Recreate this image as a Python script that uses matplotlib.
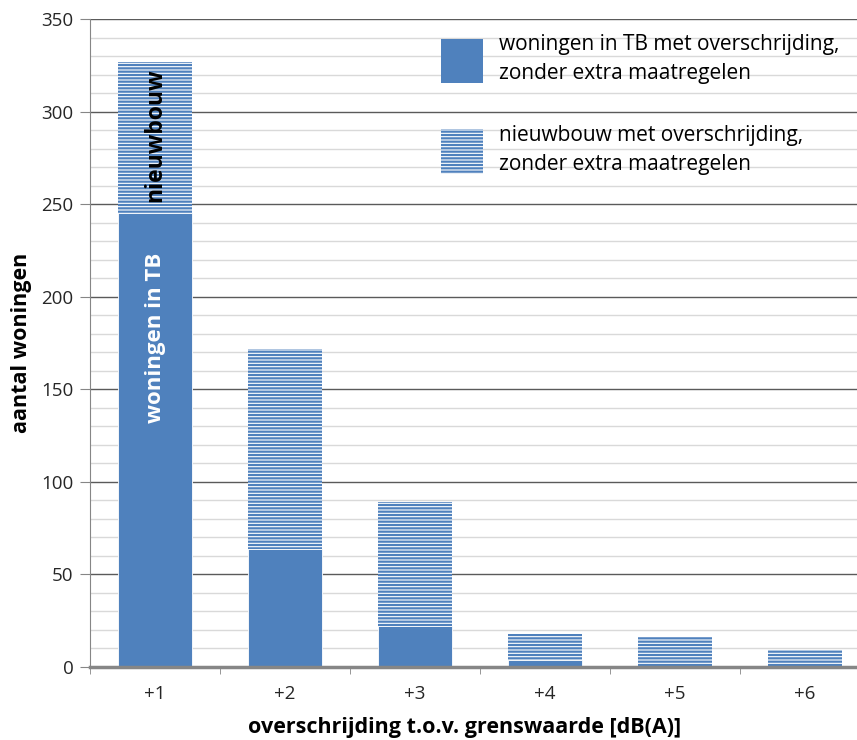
import numpy as np
import matplotlib.pyplot as plt
from matplotlib.patches import Patch
from matplotlib.ticker import MultipleLocator, FixedLocator

categories = ['+1', '+2', '+3', '+4', '+5', '+6']
woningen_tb = [245, 64, 22, 4, 0, 0]
nieuwbouw = [82, 108, 67, 14, 16, 9]

blue = '#4f81bd'
plt.rcParams['hatch.linewidth'] = 1.6
plt.rcParams['font.family'] = ['Open Sans', 'DejaVu Sans']

fig = plt.figure(figsize=(8.57, 7.4), dpi=100)
ax = fig.add_axes([90/857, 1-667/740, 780/857, 648/740])

x = np.arange(len(categories))
w = 0.57
ax.bar(x, woningen_tb, w, color=blue, edgecolor='white', linewidth=0.6, zorder=3)
ax.bar(x, nieuwbouw, w, bottom=woningen_tb, color='white', edgecolor=blue,
       hatch='-----', linewidth=0, zorder=3)

ax.set_xlim(-0.5, len(categories) - 0.5)
ax.set_ylim(0, 350)

# grid
ax.yaxis.set_major_locator(MultipleLocator(50))
ax.yaxis.set_minor_locator(MultipleLocator(10))
ax.grid(which='major', axis='y', color='#5a5a5a', linewidth=1.0, zorder=1)
ax.grid(which='minor', axis='y', color='#d9d9d9', linewidth=1.0, zorder=0)
ax.set_axisbelow(True)

ax.set_xticks(x)
ax.set_xticklabels(categories)
ax.xaxis.set_minor_locator(FixedLocator(np.arange(-0.5, len(categories), 1.0)))
ax.tick_params(axis='x', which='major', length=0, pad=13, labelsize=13.5, colors='#262626')
ax.tick_params(axis='x', which='minor', length=5, color='#868686', direction='out')
ax.tick_params(axis='y', which='major', length=7, color='#868686', pad=5, labelsize=13.5,
               labelcolor='#262626')
ax.tick_params(axis='y', which='minor', length=0)

for s in ['top', 'right']:
    ax.spines[s].set_visible(False)
ax.spines['left'].set_color('#868686')
ax.spines['bottom'].set_color('#868686')
ax.spines['bottom'].set_linewidth(2.5)
ax.spines['bottom'].set_zorder(4)

ax.set_ylabel('aantal woningen', fontsize=15.5, fontweight='bold')
ax.yaxis.set_label_coords(-68/780, 0.5)
ax.set_xlabel('overschrijding t.o.v. grenswaarde [dB(A)]', fontsize=15.5, fontweight='bold')
ax.xaxis.set_label_coords((465 - 90) / 780, -(728 - 667) / 648)
ax.xaxis.label.set_va('center')
ax.yaxis.label.set_va('center')

ax.text(0, (woningen_tb[0] + woningen_tb[0] + nieuwbouw[0]) / 2 + 1.5, 'nieuwbouw', rotation=90,
        ha='center', va='center', fontsize=16.5, fontweight='bold', color='black', zorder=5)
ax.text(0, 178, 'woningen in TB', rotation=90, ha='center', va='center', fontsize=16,
        fontweight='bold', color='white', zorder=5)

handles = [Patch(facecolor=blue, edgecolor=blue, linewidth=0),
           Patch(facecolor='white', edgecolor=blue, hatch='-----', linewidth=0)]
labels = ['woningen in TB met overschrijding,\nzonder extra maatregelen',
          'nieuwbouw met overschrijding,\nzonder extra maatregelen']
leg = ax.legend(handles, labels, loc='upper left', bbox_to_anchor=(441/857, 1-34/740),
                bbox_transform=fig.transFigure, frameon=False, borderpad=0, borderaxespad=0,
                handlelength=2.0, handleheight=2.9, handletextpad=0.8, labelspacing=1.95,
                prop={'size': 15})
for t in leg.get_texts():
    t.set_linespacing(1.5)

fig.savefig('out.png', dpi=100)
